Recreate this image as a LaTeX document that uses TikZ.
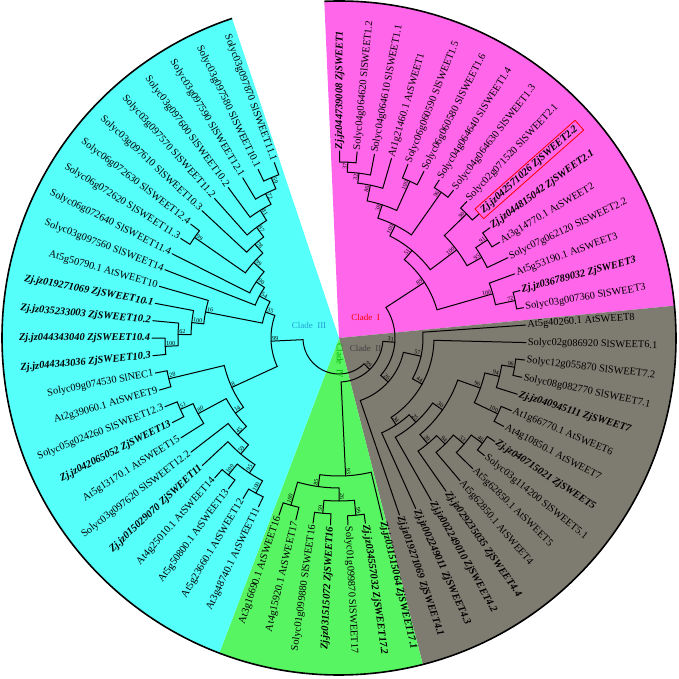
\documentclass[tikz,border=0pt]{standalone}
\usepackage{fontspec}
\setmainfont{Liberation Serif}
\definecolor{cladeI}{RGB}{255,102,234}
\definecolor{cladeII}{RGB}{126,123,112}
\definecolor{cladeIII}{RGB}{85,255,250}
\definecolor{cladeIV}{RGB}{88,245,98}
\tikzset{branch/.style={line width=1pt,line cap=round}}
\tikzset{boot/.style={font=\fontsize{6}{7}\selectfont,inner sep=0.6pt}}
\tikzset{tip/.style={font=\fontsize{10.4}{12}\selectfont,inner sep=1.8pt}}
\tikzset{zj/.style={font=\fontsize{10.4}{12}\selectfont\bfseries\itshape}}
\tikzset{cladename/.style={font=\fontsize{9}{10}\selectfont,inner sep=0pt}}
\def\tipr{187}

% leaf: [style] name, position, text
\newcommand\leaf[4][]{%
  \pgfmathsetmacro\leafAng{#3<39 ? 89.8-(#3-1)*5.365 : -115.5-(#3-39)*5.37}%
  \expandafter\xdef\csname tang#2\endcsname{\leafAng}%
  \coordinate (#2) at (\leafAng:\tipr pt);
  \pgfmathsetmacro\leafCos{cos(\leafAng)}%
  \ifdim\leafCos pt<0pt
    \pgfmathsetmacro\leafRot{\leafAng+180}%
    \node[tip,rotate=\leafRot,anchor=east,#1] (t#2) at (#2) {#4};
  \else
    \node[tip,rotate=\leafAng,anchor=west,#1] (t#2) at (#2) {#4};
  \fi}

% clade: name, child, child, radius, support
\newcommand\clade[5]{%
  \pgfmathsetmacro\angA{\csname tang#2\endcsname}%
  \pgfmathsetmacro\angB{\csname tang#3\endcsname}%
  \pgfmathsetmacro\angM{(\angA+\angB)/2}%
  \expandafter\xdef\csname tang#1\endcsname{\angM}%
  \coordinate (#1) at (\angM:#4pt);
  \draw[branch] (#2) -- (\angA:#4pt) arc[start angle=\angA,end angle=\angB,radius=#4pt] -- (#3);
  \pgfmathsetmacro\cosM{cos(\angM)}%
  \pgfmathsetmacro\radS{#4-0.5}%
  \ifdim\cosM pt<0pt
    \pgfmathsetmacro\rotM{\angM+180}%
    \node[boot,rotate=\rotM,anchor=south west] (s#1) at (\angM:\radS pt) {#5};
  \else
    \node[boot,rotate=\angM,anchor=south east] (s#1) at (\angM:\radS pt) {#5};
  \fi}

\begin{document}
\begin{tikzpicture}
\useasboundingbox (-339pt,-341pt) rectangle (340pt,338pt);

\fill[cladeI] (0,0) -- (92.5:337pt) arc[start angle=92.5,end angle=5.5,radius=337pt] -- cycle;
\fill[cladeII] (0,0) -- (5.5:337pt) arc[start angle=5.5,end angle=-75.6,radius=337pt] -- cycle;
\fill[cladeIV] (0,0) -- (-75.6:337pt) arc[start angle=-75.6,end angle=-110.8,radius=337pt] -- cycle;
\fill[cladeIII] (0,0) -- (-110.8:337pt) arc[start angle=-110.8,end angle=-251.5,radius=337pt] -- cycle;
\draw[line width=1.6pt] (92.5:337pt) arc[start angle=92.5,end angle=-251.5,radius=337pt];

\leaf[zj]{l1}{1}{Zj.jz044739008 ZjSWEET1}
\leaf{l2}{2}{Solyc04g064620 SlSWEET1.2}
\leaf{l3}{3}{Solyc04g064610 SlSWEET1.1}
\leaf{l4}{4}{At1g21460.1 AtSWEET1}
\leaf{l5}{5}{Solyc06g060590 SlSWEET1.5}
\leaf{l6}{6}{Solyc06g060580 SlSWEET1.6}
\leaf{l7}{7}{Solyc04g064640 SlSWEET1.4}
\leaf{l8}{8}{Solyc04g064630 SlSWEET1.3}
\leaf{l9}{9}{Solyc02g071520 SlSWEET2.1}
\leaf[zj,draw=red,line width=0.8pt,inner xsep=4pt]{l10}{10}{Zj.jz042571026 ZjSWEET2.2}
\leaf[zj]{l11}{11}{Zj.jz044815042 ZjSWEET2.1}
\leaf{l12}{12}{At3g14770.1 AtSWEET2}
\leaf{l13}{13}{Solyc07g062120 SlSWEET2.2}
\leaf{l14}{14}{At5g53190.1 AtSWEET3}
\leaf[zj]{l15}{15}{Zj.jz036789032 ZjSWEET3}
\leaf{l16}{16}{Solyc03g007360 SlSWEET3}
\leaf{l17}{17}{At5g40260.1 AtSWEET8}
\leaf{l18}{18}{Solyc02g086920 SlSWEET6.1}
\leaf{l19}{19}{Solyc12g055870 SlSWEET7.2}
\leaf{l20}{20}{Solyc08g082770 SlSWEET7.1}
\leaf[zj]{l21}{21}{Zj.jz040945111 ZjSWEET7}
\leaf{l22}{22}{At1g66770.1 AtSWEET6}
\leaf{l23}{23}{At4g10850.1 AtSWEET7}
\leaf[zj]{l24}{24}{Zj.jz040715021 ZjSWEET5}
\leaf{l25}{25}{Solyc03g114200 SlSWEET5.1}
\leaf{l26}{26}{At5g62850.1 AtSWEET5}
\leaf{l27}{27}{At5g62850.1 AtSWEET4}
\leaf[zj]{l28}{28}{Zj.jz029235035 ZjSWEET4.4}
\leaf[zj]{l29}{29}{Zj.jz002249010 ZjSWEET4.2}
\leaf[zj]{l30}{30}{Zj.jz002249011 ZjSWEET4.3}
\leaf[zj]{l31}{31}{Zj.jz019271069 ZjSWEET4.1}
\leaf[zj]{l32}{32}{Zj.jz031515064 ZjSWEET17.1}
\leaf[zj]{l33}{33}{Zj.jz034557032 ZjSWEET17.2}
\leaf{l34}{34}{Solyc01g099870 SlSWEET17}
\leaf[zj]{l35}{35}{Zj.jz031515072 ZjSWEET16}
\leaf{l36}{36}{Solyc01g099880 SlSWEET16}
\leaf{l37}{37}{At4g15920.1 AtSWEET17}
\leaf{l38}{38}{At3g16690.1 AtSWEET16}
\leaf{l39}{39}{At3g48740.1 AtSWEET11}
\leaf{l40}{40}{At5g23660.1 AtSWEET12}
\leaf{l41}{41}{At5g50800.1 AtSWEET13}
\leaf{l42}{42}{At4g25010.1 AtSWEET14}
\leaf[zj]{l43}{43}{Zj.jz015029070 ZjSWEET11}
\leaf{l44}{44}{Solyc03g097620 SlSWEET12.2}
\leaf{l45}{45}{At5g13170.1 AtSWEET15}
\leaf[zj]{l46}{46}{Zj.jz042065052 ZjSWEET13}
\leaf{l47}{47}{Solyc05g024260 SlSWEET12.3}
\leaf{l48}{48}{At2g39060.1 AtSWEET9}
\leaf{l49}{49}{Solyc09g074530 SlNEC1}
\leaf[zj]{l50}{50}{Zj.jz044343036 ZjSWEET10.3}
\leaf[zj]{l51}{51}{Zj.jz044343040 ZjSWEET10.4}
\leaf[zj]{l52}{52}{Zj.jz035233003 ZjSWEET10.2}
\leaf[zj]{l53}{53}{Zj.jz019271069 ZjSWEET10.1}
\leaf{l54}{54}{At5g50790.1 AtSWEET10}
\leaf{l55}{55}{Solyc03g097560 SlSWEET14}
\leaf{l56}{56}{Solyc06g072640 SlSWEET11.4}
\leaf{l57}{57}{Solyc06g072620 SlSWEET11.3}
\leaf{l58}{58}{Solyc06g072630 SlSWEET12.4}
\leaf{l59}{59}{Solyc03g097610 SlSWEET10.3}
\leaf{l60}{60}{Solyc03g097570 SlSWEET11.2}
\leaf{l61}{61}{Solyc03g097600 SlSWEET10.2}
\leaf{l62}{62}{Solyc03g097590 SlSWEET12.1}
\leaf{l63}{63}{Solyc03g097580 SlSWEET10.1}
\leaf{l64}{64}{Solyc03g097870 SlSWEET11.1}

% clade I
\clade{a37}{l1}{l2}{176}{37}
\clade{a32}{a37}{l3}{166}{32}
\clade{a86}{a32}{l4}{156}{86}
\clade{a100a}{l5}{l6}{172}{100}
\clade{a38}{a86}{a100a}{140}{38}
\clade{a96}{l7}{l8}{178}{96}
\clade{a100b}{a38}{a96}{126}{100}
\clade{a90}{l9}{l10}{178}{90}
\clade{a91}{l11}{l12}{178}{91}
\clade{a95}{a91}{l13}{164}{95}
\clade{a100c}{a90}{a95}{147}{100}
\clade{a51}{a100b}{a100c}{114}{51}
\clade{a72}{l15}{l16}{180}{72}
\clade{a100d}{l14}{a72}{160}{100}
\clade{a89}{a51}{a100d}{102}{89}
% clade II
\clade{b96}{l19}{l20}{178}{96}
\clade{b94}{b96}{l21}{165}{94}
\clade{b100}{l22}{l23}{176}{100}
\clade{b96b}{b94}{b100}{150}{96}
\clade{b46}{l24}{l25}{178}{46}
\clade{b53}{b46}{l26}{164}{53}
\clade{b94b}{b53}{l27}{150}{94}
\clade{b39}{b94b}{l28}{138}{39}
\clade{b30}{b96b}{b39}{126}{30}
\clade{b25}{b30}{l29}{114}{25}
\clade{b34}{b25}{l30}{104}{34}
\clade{b44}{l18}{b34}{95}{44}
\clade{b57}{l17}{b44}{84}{57}
\clade{b26}{b57}{l31}{66}{26}
\clade{b31}{a89}{b26}{56}{31}
% clade IV
\clade{g100}{l37}{l38}{174}{100}
\clade{g59}{l35}{l36}{176}{59}
\clade{g99}{l33}{l34}{178}{99}
\clade{g26}{g99}{g59}{163}{26}
\clade{g85}{g26}{g100}{150}{85}
\clade{g93}{l32}{g85}{138}{93}
\clade{b99}{b31}{g93}{44}{99}
% clade III
\clade{c100a}{l39}{l40}{176}{100}
\clade{c100b}{l41}{l42}{176}{100}
\clade{c95}{c100a}{c100b}{162}{95}
\clade{c59}{c95}{l43}{152}{59}
\clade{c45}{c59}{l44}{140}{45}
\clade{c51}{l46}{l47}{174}{51}
\clade{c80}{l45}{c51}{160}{80}
\clade{c14}{c45}{c80}{128}{14}
\clade{c28}{l48}{l49}{175}{28}
\clade{c8}{c14}{c28}{118}{8}
\clade{c100c}{l50}{l51}{174}{100}
\clade{c62}{c100c}{l52}{161}{62}
\clade{c100d}{c62}{l53}{148}{100}
\clade{c16}{c100d}{l54}{136}{16}
\clade{c59t}{l63}{l64}{174}{59}
\clade{c72}{l62}{c59t}{162}{72}
\clade{c81}{l61}{c72}{150}{81}
\clade{c87}{l60}{c81}{138}{87}
\clade{c78}{l59}{c87}{126}{78}
\clade{c99t}{l57}{l58}{176}{99}
\clade{c99b}{c99t}{c78}{114}{99}
\clade{c90}{l56}{c99b}{100}{90}
\clade{c54}{l55}{c90}{90}{54}
\clade{c35}{c16}{c54}{78}{35}
\clade{c99r}{c8}{c35}{68}{99}
\clade{root}{b99}{c99r}{36}{}

\node[cladename,text=red] (nI) at (26.5pt,20.5pt) {Clade\ \ I};
\node[cladename,text=black!75] (nII) at (26.5pt,-10.5pt) {Clade\ \ II};
\node[cladename,text=cyan!70!teal] (nIII) at (-30pt,13pt) {Clade\ \ III};
\node[cladename,text=green!70!black,rotate=-90] (nIV) at (1pt,-23pt) {Clade\ \ IV};
\end{tikzpicture}
\end{document}
